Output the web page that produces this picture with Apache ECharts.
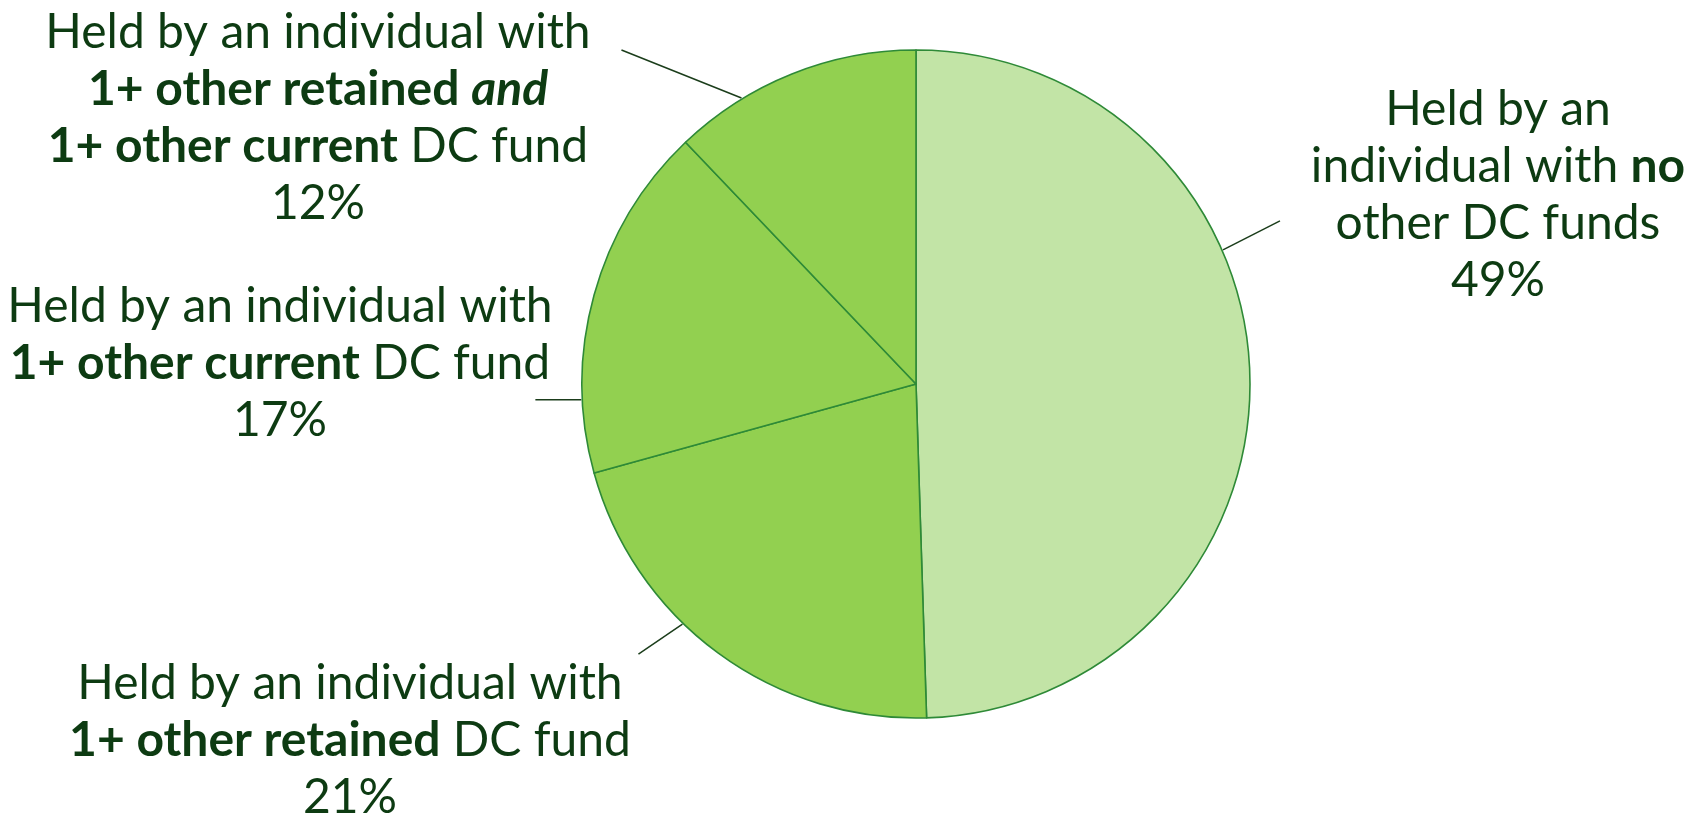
<!DOCTYPE html>
<html>
<head>
<meta charset="utf-8">
<script src="https://cdn.jsdelivr.net/npm/echarts@6/dist/echarts.min.js"></script>
<style>
  html, body { margin: 0; padding: 0; background: #ffffff; }
  #chart { width: 1687px; height: 816px; }
</style>
</head>
<body>
<div id="chart"></div>
<script>
// Share of DC funds by the other funds their holder has
const categories = [
  'No other DC funds',
  '1+ other retained DC fund',
  '1+ other current DC fund',
  '1+ other retained and 1+ other current DC fund'
];
const shares = [49, 21, 17, 12];

// Label wording, one entry per line; {b|..} bold, {bi|..} bold italic
const labelText = [
  ['Held by an', 'individual with {b|no}', 'other DC funds'],
  ['Held by an individual with', '{b|1+ other retained} DC fund'],
  ['Held by an individual with', '{b|1+ other current} DC fund'],
  ['Held by an individual with', '{b|1+ other retained }{bi|and}', '{b|1+ other current} DC fund']
];

const sliceColors = ['#c2e4a6', '#92d050', '#92d050', '#92d050'];

// Pie geometry
const CX = 916, CY = 384, R = 334;

// Label placement: text block centre x / top y, leader start angle on the rim
// (degrees clockwise from 12 o'clock) and offset of the leader's outer end
const labelPlace = [
  { x: 1498, y: 81,  angle: 66.4,  dx: 57,   dy: -29 },
  { x: 350,  y: 655, angle: 224.2, dx: -44,  dy: 30 },
  { x: 280,  y: 278, angle: 267.3, dx: -46,  dy: 0 },
  { x: 318,  y: 4,   angle: 328.6, dx: -120, dy: -48 }
];

const FONT = 'Lato, "Open Sans", sans-serif';
const TEXT_COLOR = '#0d3b12';
const FS = 48, LH = 57;

const chart = echarts.init(document.getElementById('chart'), null, { renderer: 'canvas' });

chart.setOption({
  backgroundColor: '#ffffff',
  animation: false,
  series: [{
    type: 'pie',
    center: [CX, CY],
    radius: R,
    startAngle: 90,
    clockwise: true,
    avoidLabelOverlap: false,
    emphasis: { disabled: true },
    itemStyle: { borderColor: '#2e8a37', borderWidth: 1.6 },
    data: categories.map((name, i) => ({
      name: name,
      value: shares[i],
      itemStyle: { color: sliceColors[i] }
    })),
    label: {
      show: true,
      position: 'outside',
      align: 'center',
      fontFamily: FONT,
      fontSize: FS,
      lineHeight: LH,
      color: TEXT_COLOR,
      formatter: p => labelText[p.dataIndex].concat(p.value + '%').join('\n'),
      rich: {
        b: { fontFamily: FONT, fontSize: FS, lineHeight: LH, color: TEXT_COLOR, fontWeight: 'bold' },
        bi: { fontFamily: FONT, fontSize: FS, lineHeight: LH, color: TEXT_COLOR, fontWeight: 'bold', fontStyle: 'italic' }
      }
    },
    labelLine: {
      show: true,
      length: 20,
      length2: 20,
      lineStyle: { color: '#1b3d1b', width: 1.5 }
    },
    labelLayout: function (params) {
      const c = labelPlace[params.dataIndex];
      const a = c.angle * Math.PI / 180;
      const sx = CX + (R + 1) * Math.sin(a);
      const sy = CY - (R + 1) * Math.cos(a);
      const ex = sx + c.dx, ey = sy + c.dy;
      return {
        x: c.x,
        y: c.y,
        align: 'center',
        verticalAlign: 'top',
        labelLinePoints: [[sx, sy], [ex, ey], [ex, ey]]
      };
    }
  }]
});
</script>
</body>
</html>
